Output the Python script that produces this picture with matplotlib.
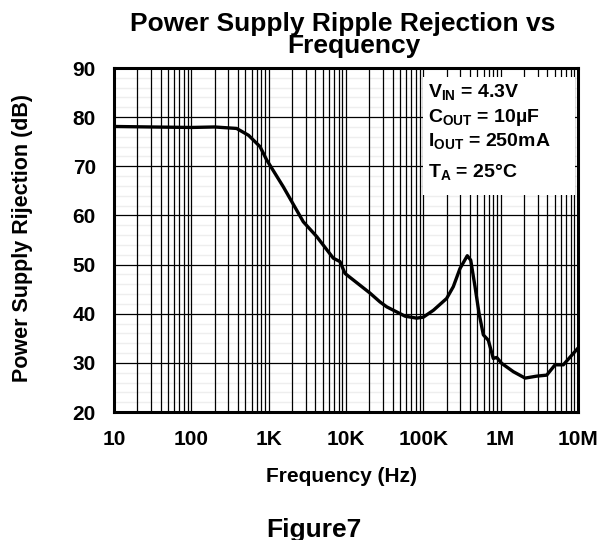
import matplotlib
matplotlib.use("Agg")
import matplotlib.pyplot as plt
from matplotlib.patches import Rectangle
import numpy as np

freq_hz = [10, 30, 100, 200, 385, 550, 773, 942, 1549, 2806, 4180, 6850, 8370, 9700,
           20400, 27500, 33600, 58000, 82000, 100000, 135000, 200000, 244000, 298000,
           370000, 410000, 466000, 525000, 597000, 692000, 803000, 889000, 1030000,
           1460000, 2070000, 2930000, 3940000, 5050000, 6460000, 10000000]
psrr_db = [78.1, 78.0, 77.9, 78.0, 77.7, 76.3, 74.0, 71.3, 65.8, 58.7, 55.7, 51.3, 50.6, 48.2,
           44.2, 42.4, 41.4, 39.5, 39.1, 39.3, 40.7, 43.1, 45.5, 49.2,
           51.8, 50.9, 45.5, 40.1, 35.7, 34.6, 30.9, 31.1, 29.9,
           28.2, 26.9, 27.3, 27.5, 29.6, 29.6, 33.0]

x_ticks = [10, 100, 1e3, 1e4, 1e5, 1e6, 1e7]
x_tick_labels = ["10", "100", "1K", "10K", "100K", "1M", "10M"]
y_ticks = [20, 30, 40, 50, 60, 70, 80, 90]

conditions = [r"V$_{\mathbf{IN}}$ = 4.3V",
              r"C$_{\mathbf{OUT}}$ = 10µF",
              r"I$_{\mathbf{OUT}}$ = 250mA",
              r"T$_{\mathbf{A}}$ = 25°C"]

plt.rcParams['font.family'] = ['Liberation Sans', 'DejaVu Sans']
plt.rcParams['font.weight'] = 'bold'
plt.rcParams['mathtext.fontset'] = 'custom'
plt.rcParams['mathtext.rm'] = 'Liberation Sans:bold'
plt.rcParams['mathtext.bf'] = 'Liberation Sans:bold'
plt.rcParams['mathtext.it'] = 'Liberation Sans:bold'

W, H = 608, 540
fig = plt.figure(figsize=(W / 100, H / 100), dpi=100)
ax = fig.add_axes([114 / W, 1 - 412 / H, 464 / W, 344 / H])


def ftext(x, y, s, **kw):
    return fig.text(x / W, 1 - y / H, s, **kw)


ax.set_xscale('log')
ax.set_xlim(10, 1e7)
ax.set_ylim(20, 90)

# faint horizontal minor grid
for yv in np.arange(20, 90, 2):
    if yv % 10 != 0:
        ax.axhline(yv, color='#eeeeee', lw=1.0, zorder=0.5)

ax.grid(True, which='major', axis='both', color='black', lw=0.9, zorder=1)
ax.grid(True, which='minor', axis='x', color='black', lw=0.9, zorder=1)

ax.plot(freq_hz, psrr_db, color='black', lw=2.4, zorder=3, solid_joinstyle='round')

ax.set_xticks(x_ticks)
ax.set_xticklabels(x_tick_labels)
ax.set_yticks(y_ticks)
ax.tick_params(axis='both', which='both', length=0, labelsize=15)
ax.tick_params(axis='x', pad=13)
ax.tick_params(axis='y', pad=13)
for lab in ax.get_xticklabels() + ax.get_yticklabels():
    lab.set_fontweight('bold')

for sp in ax.spines.values():
    sp.set_linewidth(2.2)
    sp.set_zorder(5)

# conditions box
ax.add_patch(Rectangle((0.666, 0.631), 0.3275, 0.343, transform=ax.transAxes,
                       facecolor='white', edgecolor='none', zorder=2))
baselines = [96.7, 121.7, 145.7, 176.7]
for txt, yb in zip(conditions, baselines):
    ftext(428, yb, txt, fontsize=14, fontweight='bold', va='baseline', ha='left', zorder=6)

# title (two lines)
ftext(343, 30.7, "Power Supply Ripple Rejection vs", fontsize=19, fontweight='bold',
      ha='center', va='baseline')
ftext(354, 52.5, "Frequency", fontsize=19, fontweight='bold', ha='center', va='baseline')

# axis labels
ftext(341.7, 481.7, "Frequency (Hz)", fontsize=15, fontweight='bold', ha='center', va='baseline')
ftext(22.7, 237.5, "Power Supply Rijection (dB)", fontsize=15.5, fontweight='bold',
      ha='center', va='center', rotation=90)

ftext(314, 536.5, "Figure7", fontsize=19, fontweight='bold', ha='center', va='baseline')

fig.savefig("out.png", dpi=100)
